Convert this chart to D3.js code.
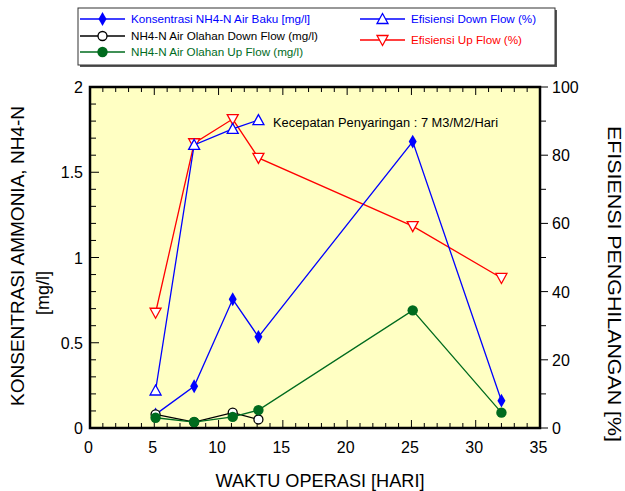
<!DOCTYPE html>
<html><head><meta charset="utf-8">
<script src="https://cdn.jsdelivr.net/npm/d3@7/dist/d3.min.js"></script>
<style>body{margin:0;background:#fff}svg{display:block;font-family:"Liberation Sans",Arial,sans-serif}</style>
</head><body><svg id="c" width="625" height="491"></svg>
<script>
// ---- data ----
const days = [5.1, 8.1, 11.1, 13.1, 25.1, 32.0];
const rawConc = [0.08, 0.245, 0.755, 0.535, 1.68, 0.16];          // Konsentrasi NH4-N Air Baku
const downOut = [0.08, 0.035, 0.09, 0.05];                          // Air Olahan Down Flow
const upOut = [0.06, 0.035, 0.065, 0.105, 0.69, 0.09];              // Air Olahan Up Flow
const effDown = [11, 83, 87.7, 90.3];                               // Efisiensi Down Flow (%)
const effUp = [33.8, 83.5, 90.6, 79.2, 59.2, 44];                   // Efisiensi Up Flow (%)
const xTicks = [0, 5, 10, 15, 20, 25, 30, 35];
const yLeftTicks = [0, 0.5, 1, 1.5, 2];
const yRightTicks = [0, 20, 40, 60, 80, 100];

const svg = d3.select("#c");
const L = 90, R = 540, T = 87, B = 428;
const x = d3.scaleLinear().domain([0, 35]).range([L, R]);
const yL = d3.scaleLinear().domain([0, 2]).range([B, T]);
const yR = d3.scaleLinear().domain([0, 100]).range([B, T]);

svg.append("rect").attr("x", L).attr("y", T).attr("width", R - L).attr("height", B - T).attr("fill", "#FFFFC3");

// ticks
const g = svg.append("g").attr("stroke", "#000").attr("stroke-width", 1);
d3.range(0, 36, 1).forEach(v => {
  const major = v % 5 === 0, len = major ? 8 : 5;
  g.append("line").attr("x1", x(v)).attr("x2", x(v)).attr("y1", B).attr("y2", B - len);
  g.append("line").attr("x1", x(v)).attr("x2", x(v)).attr("y1", T).attr("y2", T + len);
});
d3.range(0, 21, 1).forEach(i => {
  const v = i / 10, major = i % 5 === 0, len = major ? 9 : 6;
  g.append("line").attr("x1", L).attr("x2", L + len).attr("y1", yL(v)).attr("y2", yL(v));
});
d3.range(0, 101, 10).forEach(v => {
  const major = v % 20 === 0, len = major ? 8 : 6;
  g.append("line").attr("x1", R).attr("x2", R + len).attr("y1", yR(v)).attr("y2", yR(v));
});

const fs = 16;
svg.append("g").selectAll("text").data(xTicks).join("text")
  .attr("x", d => x(d) - 1.5).attr("y", 453).attr("text-anchor", "middle").attr("font-size", fs).text(d => d);
svg.append("g").selectAll("text").data(yLeftTicks).join("text")
  .attr("x", 83).attr("y", d => yL(d) + 6).attr("text-anchor", "end").attr("font-size", fs).text(d => d);
svg.append("g").selectAll("text").data(yRightTicks).join("text")
  .attr("x", 552).attr("y", d => yR(d) + 6).attr("text-anchor", "start").attr("font-size", fs).text(d => d);

// frame
svg.append("rect").attr("x", L).attr("y", T).attr("width", R - L).attr("height", B - T)
  .attr("fill", "none").attr("stroke", "#000").attr("stroke-width", 2.5);

// titles
function fitText(sel, w) { return sel.attr("textLength", w).attr("lengthAdjust", "spacingAndGlyphs"); }
fitText(svg.append("text").attr("x", 320).attr("y", 487).attr("text-anchor", "middle").attr("font-size", 18).text("WAKTU OPERASI [HARI]"), 209);
fitText(svg.append("text").attr("transform", "translate(24,256) rotate(-90)").attr("text-anchor", "middle").attr("font-size", 18).text("KONSENTRASI AMMONIA, NH4-N"), 300);
svg.append("text").attr("transform", "translate(49,293) rotate(-90)").attr("text-anchor", "middle").attr("font-size", 18).text("[mg/l]");
fitText(svg.append("text").attr("transform", "translate(608,284) rotate(90)").attr("text-anchor", "middle").attr("font-size", 18).text("EFISIENSI PENGHILANGAN [%]"), 316);
fitText(svg.append("text").attr("x", 273).attr("y", 127).attr("font-size", 12).text("Kecepatan Penyaringan : 7 M3/M2/Hari"), 225);

// series
const series = [
  {name: "Efisiensi Up Flow (%)", vals: effUp, y: yR, color: "#FF0000", marker: "tdown", w: 111},
  {name: "Efisiensi Down Flow (%)", vals: effDown, y: yR, color: "#0000FF", marker: "tup", w: 125},
  {name: "Konsentrasi NH4-N Air Baku [mg/l]", vals: rawConc, y: yL, color: "#0000FF", marker: "diamond", w: 179},
  {name: "NH4-N Air Olahan Down Flow (mg/l)", vals: downOut, y: yL, color: "#000000", marker: "open", w: 187},
  {name: "NH4-N Air Olahan Up Flow (mg/l)", vals: upOut, y: yL, color: "#006B1E", marker: "filled", w: 172},
];
function drawMarker(sel, type, color) {
  if (type === "diamond") sel.append("path").attr("d", d3.symbol(d3.symbolDiamond, 55)()).attr("fill", color);
  else if (type === "open") sel.append("circle").attr("r", 4.5).attr("fill", "#fff").attr("stroke", color).attr("stroke-width", 1.3);
  else if (type === "filled") sel.append("circle").attr("r", 5.2).attr("fill", color);
  else if (type === "tup") sel.append("path").attr("d", "M0,-5.5L5.5,4.5L-5.5,4.5Z").attr("fill", "#fff").attr("stroke", color).attr("stroke-width", 1.3);
  else if (type === "tdown") sel.append("path").attr("d", "M0,5.5L5.5,-4.5L-5.5,-4.5Z").attr("fill", "#fff").attr("stroke", color).attr("stroke-width", 1.3);
}
series.forEach(s => {
  const pts = s.vals.map((v, i) => [days[i], v]);
  svg.append("path").datum(pts).attr("fill", "none").attr("stroke", s.color).attr("stroke-width", 1.3)
    .attr("d", d3.line().x(d => x(d[0])).y(d => s.y(d[1])));
  svg.append("g").selectAll("g").data(pts).join("g")
    .attr("transform", d => `translate(${x(d[0])},${s.y(d[1])})`)
    .each(function () { drawMarker(d3.select(this), s.marker, s.color); });
});

// legend
svg.append("rect").attr("x", 80).attr("y", 10).attr("width", 477).attr("height", 57).attr("fill", "#555");
svg.append("rect").attr("x", 78).attr("y", 8).attr("width", 477).attr("height", 57).attr("fill", "#fff").attr("stroke", "#333").attr("stroke-width", 1);
const leg = [
  {s: series[2], x: 80, y: 19}, {s: series[3], x: 80, y: 36}, {s: series[4], x: 80, y: 52},
  {s: series[1], x: 360, y: 19}, {s: series[0], x: 360, y: 40},
];
leg.forEach(l => {
  const gg = svg.append("g");
  gg.append("line").attr("x1", l.x).attr("x2", l.x + 45).attr("y1", l.y).attr("y2", l.y).attr("stroke", l.s.color).attr("stroke-width", 1.3);
  drawMarker(gg.append("g").attr("transform", `translate(${l.x + 22.5},${l.y})`), l.s.marker, l.s.color);
  fitText(gg.append("text").attr("x", l.x + 51).attr("y", l.y + 4).attr("font-size", 11.5).attr("fill", l.s.color).text(l.s.name), l.s.w);
});
</script></body></html>
